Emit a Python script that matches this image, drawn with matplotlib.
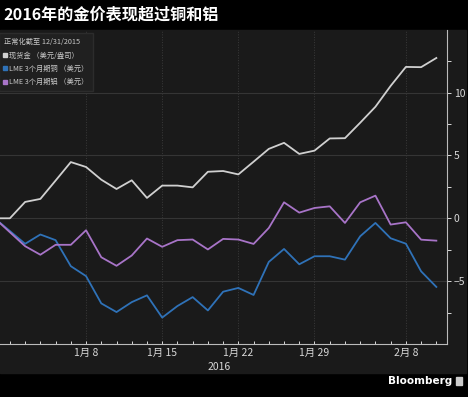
import numpy as np
import matplotlib
matplotlib.use("Agg")
import matplotlib.pyplot as plt
from matplotlib.lines import Line2D
from matplotlib.patches import Rectangle

plt.rcParams['font.family'] = ['Noto Sans CJK SC', 'DejaVu Sans']

# trading days (gold trades on Jan 1, LME does not)
gold_dates = ['2015-12-31', '2016-01-01',
              '2016-01-04', '2016-01-05', '2016-01-06', '2016-01-07', '2016-01-08',
              '2016-01-11', '2016-01-12', '2016-01-13', '2016-01-14', '2016-01-15',
              '2016-01-18', '2016-01-19', '2016-01-20', '2016-01-21', '2016-01-22',
              '2016-01-25', '2016-01-26', '2016-01-27', '2016-01-28', '2016-01-29',
              '2016-02-01', '2016-02-02', '2016-02-03', '2016-02-04', '2016-02-05',
              '2016-02-08', '2016-02-09', '2016-02-10']
lme_dates = [gold_dates[0]] + gold_dates[2:]

gold = [0, 0, 1.3, 1.54, 3.0, 4.47, 4.08, 3.07, 2.33, 3.02, 1.62, 2.6, 2.6, 2.46,
        3.7, 3.76, 3.49, 4.5, 5.52, 6.0, 5.12, 5.38, 6.35, 6.37, 7.6, 8.87,
        10.53, 12.04, 12.02, 12.75]
copper = [0, -2.03, -1.29, -1.74, -3.81, -4.6, -6.77, -7.46, -6.67, -6.13, -7.9,
          -6.98, -6.27, -7.33, -5.84, -5.54, -6.1, -3.47, -2.44, -3.66, -3.02,
          -3.02, -3.29, -1.43, -0.37, -1.59, -2.02, -4.22, -5.46]
alum = [0, -2.22, -2.9, -2.11, -2.11, -0.95, -3.1, -3.78, -2.96, -1.61, -2.27,
        -1.74, -1.69, -2.48, -1.64, -1.69, -2.04, -0.77, 1.27, 0.45, 0.82, 0.95,
        -0.37, 1.27, 1.8, -0.5, -0.32, -1.7, -1.78]

tick_dates = ['2016-01-08', '2016-01-15', '2016-01-22', '2016-01-29', '2016-02-08']
tick_labels = ['1月 8', '1月 15', '1月 22', '1月 29', '2月 8']

labels = ['现货金 （美元/盎司）', 'LME 3个月期铜 （美元）', 'LME 3个月期铝 （美元）']
colors = ['#d0d0d0', '#2f72b8', '#a874c8']

def wd(dates):
    return np.busday_count('2015-12-31', np.array(dates, dtype='datetime64[D]'))

fig = plt.figure(figsize=(4.68, 3.97), dpi=100, facecolor='black')
fig.patches.append(Rectangle((0, 24 / 397), 466 / 468, 343 / 397,
                             transform=fig.transFigure, color='#1a1a1a', zorder=-5))

ax = fig.add_axes([0, 53 / 397, 447 / 468, 314.3 / 397])
ax.set_facecolor('#1a1a1a')

ax.plot(wd(gold_dates), gold, color=colors[0], lw=1.3)
ax.plot(wd(lme_dates), copper, color=colors[1], lw=1.3)
ax.plot(wd(lme_dates), alum, color=colors[2], lw=1.3)

ax.set_xlim(0.35, 29.7)
ax.set_ylim(-10, 15)

ax.yaxis.tick_right()
ax.set_yticks([-5, 0, 5, 10])
ax.set_yticks([-7.5, -2.5, 2.5, 7.5, 12.5], minor=True)
ax.set_xticks(wd(tick_dates))
ax.set_xticklabels(tick_labels)
ax.set_xticks(np.arange(1, 30), minor=True)
ax.tick_params(axis='y', colors='#d8d8d8', labelsize=7.5, length=3, width=0.7,
               which='both', pad=2)
ax.tick_params(axis='x', colors='#d8d8d8', labelsize=7.5, length=2.5, width=0.7,
               which='both', direction='in', pad=3)

ax.grid(axis='y', color='#353535', lw=0.8, ls='-')
ax.grid(axis='x', color='#3a3a3a', lw=0.7, ls=':')

for s in ['top', 'left']:
    ax.spines[s].set_visible(False)
ax.spines['right'].set_color('#bbbbbb')
ax.spines['bottom'].set_color('#bbbbbb')
ax.spines['right'].set_linewidth(0.8)
ax.spines['bottom'].set_linewidth(0.8)

ax.text(0.49, -0.073, '2016', transform=ax.transAxes, ha='center', va='center',
        color='#d8d8d8', fontsize=7.5)

handles = [Line2D([], [], ls='', marker='s', markersize=3.2, color=c) for c in colors]
leg = ax.legend(handles, labels, title='正常化截至 12/31/2015', loc='upper left',
                bbox_to_anchor=(-0.002, 0.99), fontsize=5.2, title_fontsize=5.2,
                handlelength=0.3, handletextpad=0.35, borderpad=0.7,
                labelspacing=0.75, borderaxespad=0, alignment='left',
                facecolor='#202020', edgecolor='#2c2c2c', framealpha=1, fancybox=False)
for t in leg.get_texts():
    t.set_color('#c8c8c8')
leg.get_title().set_color('#c8c8c8')

fig.text(3 / 468, 1 - 15 / 397, '2016年的金价表现超过铜和铝', color='white',
         fontsize=11.6, fontweight='bold', va='center', ha='left')

fig.text(452 / 468, 1 - 381 / 397, 'Bloomberg', color='white', fontsize=7.5,
         fontweight='bold', va='center', ha='right', family='Liberation Sans Narrow')
fig.patches.append(Rectangle((456 / 468, 1 - 385 / 397), 6 / 468, 8 / 397,
                             transform=fig.transFigure, color='#cccccc'))

fig.savefig('out.png', dpi=100, facecolor='black')
